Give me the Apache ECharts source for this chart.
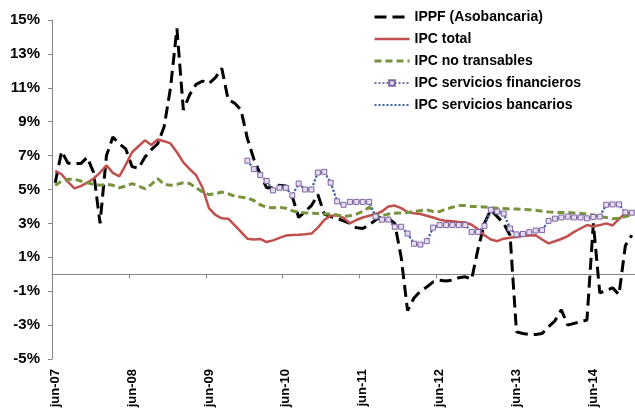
<!DOCTYPE html>
<html>
<head>
<meta charset="utf-8">
<script src="https://cdn.jsdelivr.net/npm/echarts@6/dist/echarts.min.js"></script>
<style>
  html, body { margin: 0; padding: 0; background: #fff; }
  #chart { width: 635px; height: 414px; }
</style>
</head>
<body>
<div id="chart"></div>
<script>
// monthly categories jun-07 .. dic-14
const monthNames = ['ene', 'feb', 'mar', 'abr', 'may', 'jun', 'jul', 'ago', 'sep', 'oct', 'nov', 'dic']
const months = []
for (let k = 0; k < 91; k++) {
  const m = (5 + k) % 12
  const y = 7 + Math.floor((5 + k) / 12)
  months.push(monthNames[m] + '-' + String(y).padStart(2, '0'))
}

const yTicks = [-5, -3, -1, 1, 3, 5, 7, 9, 11, 13, 15]

// IPPF (Asobancaria)
const ippf = [5.4, 7.25, 6.55, 6.53, 6.53, 6.9, 6.0, 3.0, 7.0, 8.1,
  7.7, 7.4, 6.35, 6.25, 6.9, 7.35, 7.7, 8.7, 11.0, 14.5,
  9.7, 10.6, 11.2, 11.4, 11.25, 11.6, 12.15, 10.3, 10.1, 9.7,
  8.0, 6.8, 5.9, 5.1, 5.1, 5.25, 5.2, 4.6, 3.35, 3.7,
  4.05, 4.7, 3.55, 3.4, 3.3, 3.15, 3.0, 2.75, 2.7, 2.9,
  3.2, 3.4, 3.3, 3.0, 1.0, -2.15, -1.4, -1.0, -0.75, -0.45,
  -0.35, -0.4, -0.35, -0.2, -0.15, -0.3, 1.5, 3.0, 3.8, 3.4,
  3.0, 2.3, -3.4, -3.5, -3.55, -3.55, -3.5, -3.1, -2.75, -2.1,
  -3.0, -2.9, -2.8, -2.7, 3.0, -1.1, -0.95, -0.8, -1.2, 1.7,
  2.3]

// IPC total
const ipcTotal = [6.1, 5.9, 5.45, 5.07, 5.2, 5.4, 5.65, 6.0, 6.43, 5.98,
  5.78, 6.45, 7.2, 7.55, 7.9, 7.63, 7.95, 7.85, 7.72, 7.2,
  6.6, 6.2, 5.84, 5.1, 3.9, 3.5, 3.3, 3.28, 2.9, 2.5,
  2.1, 2.05, 2.08, 1.9, 2.0, 2.15, 2.28, 2.32, 2.33, 2.36,
  2.4, 2.75, 3.2, 3.45, 3.48, 3.33, 3.0, 3.2, 3.35, 3.45,
  3.55, 3.7, 4.0, 4.05, 3.9, 3.67, 3.6, 3.55, 3.45, 3.35,
  3.22, 3.15, 3.12, 3.08, 3.05, 2.92, 2.65, 2.3, 2.05, 1.95,
  2.1, 2.15, 2.2, 2.25, 2.28, 2.3, 2.05, 1.82, 1.95, 2.08,
  2.25, 2.5, 2.7, 2.9, 2.82, 2.9, 3.0, 2.88, 3.25, 3.6,
  3.65]

// IPC no transables
const ipcNoTransables = [5.25, 5.5, 5.6, 5.6, 5.5, 5.4, 5.3, 5.25, 5.3, 5.25,
  5.1, 5.2, 5.35, 5.2, 5.05, 5.3, 5.65, 5.3, 5.25, 5.3,
  5.4, 5.35, 5.1, 4.85, 4.7, 4.75, 4.85, 4.75, 4.6, 4.55,
  4.5, 4.35, 4.1, 3.95, 3.92, 3.95, 3.9, 3.75, 3.65, 3.62,
  3.6, 3.58, 3.56, 3.55, 3.5, 3.42, 3.45, 3.55, 3.7, 3.95,
  3.5, 3.45, 3.55, 3.6, 3.62, 3.65, 3.7, 3.75, 3.8, 3.7,
  3.7, 3.85, 3.95, 4.05, 4.05, 4.0, 4.0, 3.97, 3.93, 3.9,
  3.88, 3.85, 3.85, 3.82, 3.8, 3.78, 3.72, 3.68, 3.65, 3.65,
  3.65, 3.62, 3.6, 3.55, 3.5, 3.4, 3.35, 3.27, 3.3, 3.4,
  3.5]

const gap30 = new Array(30).fill(null)

// IPC servicios financieros (from dic-09)
const ipcFinancieros = gap30.concat([6.7, 6.2, 5.85, 5.5, 4.95, 5.1, 5.1, 4.65, 5.35, 5.0,
  5.0, 6.0, 6.04, 5.4, 4.3, 4.1, 4.27, 4.27, 4.27, 4.27,
  3.4, 3.22, 3.22, 2.8, 2.8, 2.4, 1.8, 1.75, 1.95, 2.75,
  2.9, 2.9, 2.9, 2.9, 2.9, 2.5, 2.5, 2.85, 3.8, 3.7,
  3.58, 2.7, 2.35, 2.38, 2.48, 2.58, 2.6, 3.15, 3.28, 3.35,
  3.4, 3.35, 3.35, 3.3, 3.38, 3.4, 4.1, 4.12, 4.12, 3.65,
  3.63])

// IPC servicios bancarios (from dic-09)
const ipcBancarios = gap30.concat([6.7, 6.2, 5.85, 5.5, 4.95, 5.1, 5.1, 4.65, 5.35, 5.0,
  5.0, 6.0, 6.04, 5.4, 4.3, 4.1, 4.27, 4.27, 4.27, 4.27,
  3.4, 3.22, 3.22, 2.8, 2.8, 2.4, 1.8, 1.75, 1.95, 2.75,
  2.9, 2.9, 2.9, 2.9, 2.9, 2.5, 2.5, 2.85, 3.8, 3.7,
  3.58, 2.7, 2.35, 2.38, 2.48, 2.58, 2.6, 3.15, 3.28, 3.35,
  3.4, 3.35, 3.35, 3.3, 3.38, 3.4, 4.1, 4.12, 4.12, 3.65,
  3.63])

const font = "'Liberation Sans', Arial, sans-serif"
const axisGray = '#868686'
const noMarker = { opacity: 0 }

const chart = echarts.init(document.getElementById('chart'))

chart.setOption({
  animation: false,
  backgroundColor: '#fff',
  grid: { left: 52, top: 20, width: 586, height: 339 },
  legend: {
    orient: 'vertical',
    left: 373,
    top: 10,
    padding: 0,
    itemWidth: 35,
    itemHeight: 7,
    itemGap: 8,
    lineStyle: { width: 'inherit' },
    textStyle: { fontFamily: font, fontWeight: 'bold', fontSize: 14, color: '#000', lineHeight: 14 },
    data: [
      { name: 'IPPF (Asobancaria)', itemStyle: noMarker },
      { name: 'IPC total', itemStyle: noMarker },
      { name: 'IPC no transables', itemStyle: noMarker },
      { name: 'IPC servicios financieros' },
      { name: 'IPC servicios bancarios', itemStyle: noMarker }
    ]
  },
  xAxis: [
    {
      type: 'category',
      data: months,
      position: 'bottom',
      boundaryGap: true,
      axisLine: { show: false, onZero: false },
      axisTick: { show: false },
      axisLabel: {
        interval: 11,
        rotate: 90,
        margin: 10,
        fontFamily: font,
        fontWeight: 'bold',
        fontSize: 13,
        color: '#000'
      }
    },
    {
      type: 'category',
      data: months,
      position: 'bottom',
      boundaryGap: true,
      axisLine: { show: true, onZero: true, lineStyle: { color: axisGray, width: 1 } },
      axisTick: { show: true, interval: 11, length: 4, lineStyle: { color: axisGray } },
      axisLabel: { show: false }
    }
  ],
  yAxis: {
    type: 'value',
    min: -5,
    max: 15,
    axisLine: { show: true, lineStyle: { color: axisGray, width: 1 } },
    axisTick: { show: true, length: 4, customValues: yTicks, lineStyle: { color: axisGray } },
    axisLabel: {
      customValues: yTicks,
      formatter: v => v + '%',
      margin: 12,
      fontFamily: font,
      fontWeight: 'bold',
      fontSize: 15,
      color: '#000'
    },
    splitLine: { show: false }
  },
  series: [
    {
      name: 'IPPF (Asobancaria)',
      type: 'line',
      data: ippf,
      symbol: 'none',
      lineStyle: { color: '#000', width: 3, type: [12, 6] },
      itemStyle: { color: '#000' }
    },
    {
      name: 'IPC total',
      type: 'line',
      data: ipcTotal,
      symbol: 'none',
      lineStyle: { color: '#C0504D', width: 2.5 },
      itemStyle: { color: '#C0504D' }
    },
    {
      name: 'IPC no transables',
      type: 'line',
      data: ipcNoTransables,
      symbol: 'none',
      lineStyle: { color: '#77933C', width: 3, type: [7, 4] },
      itemStyle: { color: '#77933C' }
    },
    {
      name: 'IPC servicios financieros',
      type: 'line',
      data: ipcFinancieros,
      symbol: 'rect',
      symbolSize: 5,
      showAllSymbol: true,
      lineStyle: { color: '#8064A2', width: 2, type: [2, 2] },
      itemStyle: { color: '#E4DDF0', borderColor: '#8064A2', borderWidth: 1 }
    },
    {
      name: 'IPC servicios bancarios',
      type: 'line',
      data: ipcBancarios,
      symbol: 'none',
      lineStyle: { color: '#3C68AA', width: 2, type: [2, 2] },
      itemStyle: { color: '#3C68AA' }
    }
  ]
})
</script>
</body>
</html>
